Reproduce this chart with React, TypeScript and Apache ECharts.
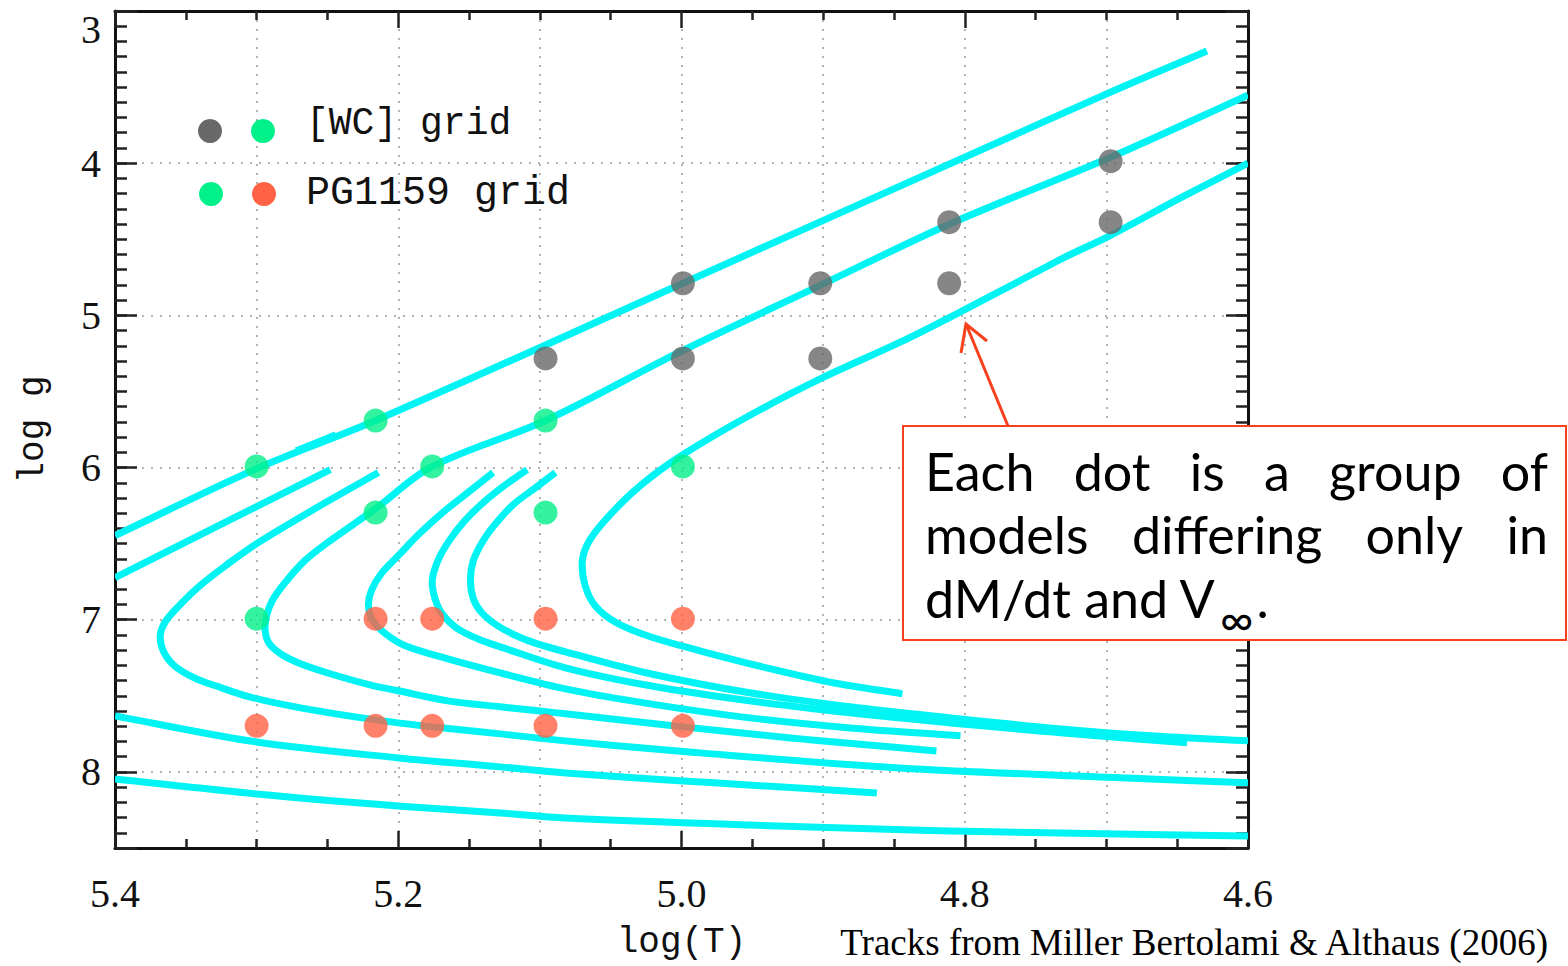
import React, { useEffect, useRef } from 'react';
import * as echarts from 'echarts';

// ---- Data (log T, log g) ----
const TRACK_A: [number, number][] = [[5.400, 6.447], [5.300, 6.007], [5.216, 5.691], [4.999, 4.789], [4.705, 3.566], [4.629, 3.263]];
const TRACK_A_KINK: [number, number][] = [[5.272, 5.890], [5.244, 5.785]];
const TRACK_B: [number, number][] = [[4.600, 3.553], [4.697, 3.961], [4.811, 4.401], [4.902, 4.803], [4.999, 5.230], [5.096, 5.691], [5.176, 5.993], [5.216, 6.270], [5.248, 6.480], [5.266, 6.612], [5.280, 6.757], [5.289, 6.875], [5.293, 6.974], [5.294, 7.072], [5.291, 7.158], [5.282, 7.230], [5.269, 7.289], [5.248, 7.355], [5.220, 7.428], [5.200, 7.467], [5.165, 7.533], [5.128, 7.572], [5.082, 7.618], [4.999, 7.704], [4.916, 7.783], [4.820, 7.862]];
const TRACK_C: [number, number][] = [[4.600, 4.000], [4.648, 4.230], [4.697, 4.474], [4.731, 4.625], [4.743, 4.684], [4.801, 4.967], [4.846, 5.178], [4.900, 5.408], [4.952, 5.658], [5.000, 5.921], [5.029, 6.118], [5.051, 6.316], [5.065, 6.480], [5.070, 6.612], [5.068, 6.776], [5.061, 6.908], [5.046, 7.020], [5.022, 7.112], [4.987, 7.204], [4.940, 7.316], [4.893, 7.414], [4.844, 7.487]];
const TRACK_D: [number, number][] = [[5.400, 6.724], [5.248, 6.013]];
const TRACK_E: [number, number][] = [[5.214, 6.033], [5.255, 6.250], [5.300, 6.500], [5.322, 6.645], [5.340, 6.776], [5.354, 6.901], [5.364, 7.007], [5.368, 7.099], [5.366, 7.204], [5.358, 7.303], [5.344, 7.382], [5.329, 7.434], [5.305, 7.507], [5.269, 7.579], [5.216, 7.658], [5.176, 7.704], [5.128, 7.750], [5.082, 7.796], [4.987, 7.875], [4.846, 7.974], [4.705, 8.033], [4.600, 8.072]];
const TRACK_F: [number, number][] = [[5.133, 6.033], [5.149, 6.151], [5.167, 6.283], [5.185, 6.434], [5.200, 6.579], [5.212, 6.697], [5.219, 6.809], [5.221, 6.908], [5.218, 7.007], [5.209, 7.092], [5.195, 7.171], [5.165, 7.257], [5.128, 7.349], [5.082, 7.454], [5.022, 7.553], [4.952, 7.645], [4.881, 7.711], [4.803, 7.763]];
const TRACK_G: [number, number][] = [[5.109, 6.013], [5.125, 6.118], [5.140, 6.230], [5.153, 6.349], [5.164, 6.480], [5.172, 6.612], [5.176, 6.743], [5.174, 6.862], [5.169, 6.961], [5.159, 7.053], [5.144, 7.125], [5.128, 7.178], [5.082, 7.316], [5.022, 7.434], [4.952, 7.533], [4.881, 7.612], [4.810, 7.678], [4.740, 7.737], [4.643, 7.809]];
const TRACK_H: [number, number][] = [[5.089, 6.033], [5.103, 6.132], [5.118, 6.237], [5.130, 6.355], [5.140, 6.480], [5.147, 6.612], [5.149, 6.743], [5.147, 6.862], [5.141, 6.954], [5.130, 7.039], [5.115, 7.112], [5.100, 7.164], [5.082, 7.211], [5.022, 7.355], [4.952, 7.480], [4.881, 7.572], [4.810, 7.645], [4.740, 7.711], [4.669, 7.763], [4.600, 7.796]];
const TRACK_LOW1: [number, number][] = [[5.400, 7.632], [5.300, 7.803], [5.200, 7.908], [5.128, 7.967], [5.082, 8.007], [4.987, 8.066], [4.862, 8.138]];
const TRACK_LOW2: [number, number][] = [[5.400, 8.046], [5.300, 8.145], [5.200, 8.224], [5.128, 8.270], [5.082, 8.303], [4.952, 8.349], [4.810, 8.388], [4.600, 8.421]];

const WC_GRAY: [number, number][] = [[4.697, 3.987], [4.811, 4.388], [4.697, 4.388], [4.999, 4.789], [4.902, 4.789], [4.811, 4.789], [5.096, 5.283], [4.999, 5.283], [4.902, 5.283]];
const BOTH_GREEN: [number, number][] = [[5.216, 5.691], [5.096, 5.691], [5.300, 5.993], [5.176, 5.993], [4.999, 5.993], [5.216, 6.296], [5.096, 6.296], [5.300, 6.993]];
const PG_RED: [number, number][] = [[5.216, 6.993], [5.176, 6.993], [5.096, 6.993], [4.999, 6.993], [5.300, 7.697], [5.216, 7.697], [5.176, 7.697], [5.096, 7.697], [4.999, 7.697]];

const TRACKS = [TRACK_A, TRACK_A_KINK, TRACK_B, TRACK_C, TRACK_D, TRACK_E, TRACK_F, TRACK_G, TRACK_H, TRACK_LOW1, TRACK_LOW2];

const LEGEND_WC = '[WC] grid';
const LEGEND_PG = 'PG1159 grid';
const X_NAME = 'log(T)';
const Y_NAME = 'log g';
const CREDIT = 'Tracks from Miller Bertolami & Althaus (2006)';
const NOTE_LINES = [
  ['Each', 'dot', 'is', 'a', 'group', 'of'],
  ['models', 'differing', 'only', 'in'],
];
const NOTE_LAST = 'dM/dt and V';

const CYAN = '#00f4f4';
const GRAY = '#686868';
const GREEN = '#00f08a';
const RED = '#ff6245';
const ANNOT = '#f8401c';
const TICK_FONT = 'Liberation Serif';
const MONO = 'Liberation Mono';
const NOTE_FONT_FAMILY = 'Lato';

// Smooth path through pixel points (tangent-based cubic Bezier)
function smoothPath(pts: number[][]): string {
  if (pts.length < 2) return '';
  const n = pts.length;
  const tan: number[][] = pts.map((p, i) => {
    const a = pts[Math.max(0, i - 1)];
    const b = pts[Math.min(n - 1, i + 1)];
    const dx = b[0] - a[0], dy = b[1] - a[1];
    const l = Math.hypot(dx, dy) || 1;
    return [dx / l, dy / l];
  });
  let d = `M${pts[0][0]},${pts[0][1]}`;
  for (let i = 0; i < n - 1; i++) {
    const p = pts[i], q = pts[i + 1];
    const L = Math.hypot(q[0] - p[0], q[1] - p[1]) / 3;
    const c1 = [p[0] + tan[i][0] * L, p[1] + tan[i][1] * L];
    const c2 = [q[0] - tan[i + 1][0] * L, q[1] - tan[i + 1][1] * L];
    d += ` C${c1[0]},${c1[1]} ${c2[0]},${c2[1]} ${q[0]},${q[1]}`;
  }
  return d;
}

export default function App() {
  const ref = useRef<HTMLDivElement>(null);
  useEffect(() => {
    if (!ref.current) return;
    const chart = echarts.init(ref.current, null, { renderer: 'svg' });

    const ctx = document.createElement('canvas').getContext('2d')!;
    const noteSize = 52;
    const noteFont = `${noteSize}px ${NOTE_FONT_FAMILY}`;
    const measure = (t: string, f: string) => { ctx.font = f; return ctx.measureText(t).width; };

    const noteLeft = 925, noteRight = 1548;
    const lineY = [471, 534, 598];
    const noteEls: any[] = [];
    NOTE_LINES.forEach((words, li) => {
      const ws = words.map((w) => measure(w, noteFont));
      const total = ws.reduce((a, b) => a + b, 0);
      const gap = (noteRight - noteLeft - total) / (words.length - 1);
      let x = noteLeft;
      words.forEach((w, i) => {
        noteEls.push({ type: 'text', z: 101, style: { text: w, x, y: lineY[li], font: noteFont, fill: '#000', textAlign: 'left', textVerticalAlign: 'middle' } });
        x += ws[i] + gap;
      });
    });
    const w3 = measure(NOTE_LAST, noteFont);
    noteEls.push({ type: 'text', z: 101, style: { text: NOTE_LAST, x: noteLeft, y: lineY[2], font: noteFont, fill: '#000', textAlign: 'left', textVerticalAlign: 'middle' } });
    const subFont = `46px ${NOTE_FONT_FAMILY}`;
    const wInf = measure('∞', subFont);
    noteEls.push({ type: 'text', z: 101, style: { text: '∞', x: noteLeft + w3 + 3, y: lineY[2] + 20, font: subFont, fill: '#000', textAlign: 'left', textVerticalAlign: 'middle' } });
    noteEls.push({ type: 'text', z: 101, style: { text: '.', x: noteLeft + w3 + 6 + wInf, y: lineY[2], font: noteFont, fill: '#000', textAlign: 'left', textVerticalAlign: 'middle' } });

    const tickStyle = { color: '#222', width: 2.5 };
    const frameLine = { show: true, onZero: false, lineStyle: { color: '#111', width: 3 } };
    const xBase = { type: 'value', min: 4.6, max: 5.4, interval: 0.2, inverse: true, splitLine: { show: false } };
    const yBase = { type: 'value', min: 3, max: 8.5, inverse: true };

    const trackSeries = (track: [number, number][]) => ({
      type: 'custom', coordinateSystem: 'cartesian2d', xAxisIndex: 0, yAxisIndex: 0,
      silent: true, clip: true, z: 2, data: track, encode: { x: 0, y: 1 },
      renderItem: (params: any, api: any) => {
        if (params.dataIndex !== 0) return null;
        const pts = track.map((p) => api.coord(p));
        return {
          type: 'path',
          shape: { pathData: smoothPath(pts) },
          style: { stroke: CYAN, lineWidth: 7, fill: 'none' },
        };
      },
    });

    const option: any = {
      animation: false,
      grid: { left: 115, top: 11, width: 1133, height: 837 },
      xAxis: [
        {
          ...xBase, position: 'bottom', axisLine: frameLine,
          axisTick: { show: true, inside: true, length: 17, lineStyle: tickStyle },
          minorTick: { show: true, splitNumber: 4, length: 9, lineStyle: tickStyle },
          axisLabel: { formatter: (v: number) => v.toFixed(1), fontFamily: TICK_FONT, fontSize: 40, color: '#111', margin: 25 },
          name: X_NAME, nameLocation: 'middle', nameGap: 76,
          nameTextStyle: { fontFamily: MONO, fontSize: 36, color: '#111' },
        },
        {
          ...xBase, position: 'top', axisLine: frameLine,
          axisTick: { show: true, inside: true, length: 17, lineStyle: tickStyle },
          minorTick: { show: true, splitNumber: 4, length: 9, lineStyle: tickStyle },
          axisLabel: { show: false },
        },
        {
          type: 'value', min: 4.6, max: 5.4, interval: 0.1, inverse: true, position: 'bottom',
          axisLine: { show: false }, axisTick: { show: false }, axisLabel: { show: false },
          splitLine: { show: true, lineStyle: { type: [2, 7], color: '#9a9a9a', width: 1.5 } },
        },
      ],
      yAxis: [
        {
          ...yBase, interval: 1, position: 'left', axisLine: frameLine,
          axisTick: { show: true, inside: true, length: 22, lineStyle: tickStyle },
          axisLabel: {
            formatter: (v: number) => {
              if (Math.abs(v - 3) < 1e-6) return '{top|3}';
              if (Math.abs(v - Math.round(v)) < 1e-6) return String(Math.round(v));
              return '';
            },
            rich: { top: { fontFamily: TICK_FONT, fontSize: 40, color: '#111', padding: [36, 0, 0, 0] } },
            fontFamily: TICK_FONT, fontSize: 40, color: '#111', margin: 14,
          },
          splitLine: { show: true, lineStyle: { type: [2, 7], color: '#9a9a9a', width: 1.5 } },
          name: Y_NAME, nameLocation: 'middle', nameGap: 64,
          nameTextStyle: { fontFamily: MONO, fontSize: 36, color: '#111' },
        },
        {
          ...yBase, interval: 0.1, position: 'left', axisLine: { show: false },
          axisTick: { show: true, inside: true, length: 12, lineStyle: tickStyle },
          axisLabel: { show: false }, splitLine: { show: false },
        },
        {
          ...yBase, interval: 1, position: 'right', axisLine: frameLine,
          axisTick: { show: true, inside: true, length: 22, lineStyle: tickStyle },
          axisLabel: { show: false }, splitLine: { show: false },
        },
        {
          ...yBase, interval: 0.1, position: 'right', axisLine: { show: false },
          axisTick: { show: true, inside: true, length: 12, lineStyle: tickStyle },
          axisLabel: { show: false }, splitLine: { show: false },
        },
      ],
      series: [
        ...TRACKS.map(trackSeries),
        { type: 'scatter', data: WC_GRAY, symbolSize: 24, itemStyle: { color: GRAY }, silent: true, z: 3 },
        { type: 'scatter', data: BOTH_GREEN, symbolSize: 24, itemStyle: { color: GREEN }, silent: true, z: 3 },
        { type: 'scatter', data: PG_RED, symbolSize: 24, itemStyle: { color: RED }, silent: true, z: 3 },
      ],
      graphic: [
        { type: 'circle', z: 50, shape: { cx: 210, cy: 131, r: 12 }, style: { fill: GRAY } },
        { type: 'circle', z: 50, shape: { cx: 263, cy: 131, r: 12 }, style: { fill: GREEN } },
        { type: 'circle', z: 50, shape: { cx: 211, cy: 194, r: 12 }, style: { fill: GREEN } },
        { type: 'circle', z: 50, shape: { cx: 264, cy: 194, r: 12 }, style: { fill: RED } },
        { type: 'text', z: 50, style: { text: LEGEND_WC, x: 306, y: 123, font: `38px ${MONO}`, fill: '#111', textAlign: 'left', textVerticalAlign: 'middle' } },
        { type: 'text', z: 50, style: { text: LEGEND_PG, x: 306, y: 193, font: `40px ${MONO}`, fill: '#111', textAlign: 'left', textVerticalAlign: 'middle' } },
        { type: 'text', z: 50, style: { text: CREDIT, x: 1548, y: 942, font: `37px ${TICK_FONT}`, fill: '#000', textAlign: 'right', textVerticalAlign: 'middle' } },
        { type: 'polyline', z: 100, shape: { points: [[1008, 426], [966, 324]] }, style: { stroke: ANNOT, lineWidth: 3, fill: 'none' } },
        { type: 'polyline', z: 100, shape: { points: [[961, 353], [966, 324], [987, 341]] }, style: { stroke: ANNOT, lineWidth: 3, fill: 'none' } },
        { type: 'rect', z: 100, shape: { x: 903, y: 426, width: 663, height: 214 }, style: { fill: '#fff', stroke: ANNOT, lineWidth: 2 } },
        ...noteEls,
      ],
    };
    chart.setOption(option);
    return () => chart.dispose();
  }, []);
  return <div ref={ref} style={{ position: 'absolute', left: 0, top: 0, width: 1568, height: 966, background: '#fff' }} />;
}
